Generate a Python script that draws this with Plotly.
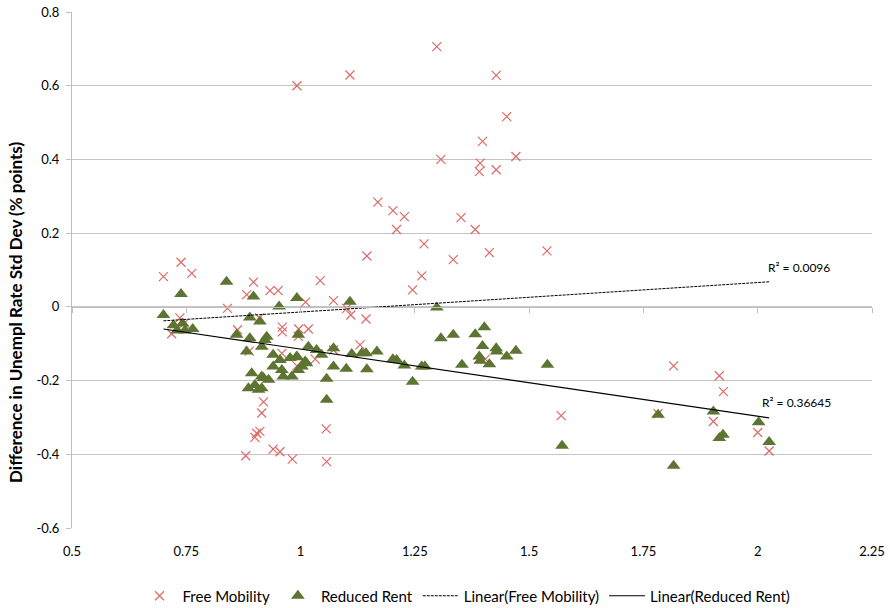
import plotly.graph_objects as go

# Free Mobility observations
fm_x = [0.70, 0.7385, 0.762, 0.897, 0.882, 0.933, 0.951, 1.043, 1.011, 0.84,
        0.736, 0.745, 0.718, 0.862, 0.96, 0.96, 0.996, 1.017, 0.995, 0.91,
        0.888, 0.959, 0.992, 1.032, 0.919, 0.915, 0.904, 0.911, 0.900, 0.88,
        0.94, 0.955, 0.982, 1.072, 1.101, 1.11, 1.143, 1.13, 1.072, 1.056,
        1.057, 1.21, 1.382, 1.27, 1.145, 1.334, 1.265, 1.245, 1.298, 1.108,
        1.428, 0.992, 1.451, 1.398, 1.471, 1.307, 1.393, 1.391, 1.428, 1.169,
        1.202, 1.227, 1.351, 1.413, 1.539, 1.404, 1.57, 1.816, 1.916, 1.925,
        1.782, 1.903, 2.0, 2.025]
fm_y = [0.082, 0.121, 0.091, 0.067, 0.033, 0.044, 0.044, 0.071, 0.013, -0.004,
        -0.03, -0.045, -0.073, -0.062, -0.055, -0.068, -0.06, -0.06, -0.08, -0.03,
        -0.12, -0.126, -0.16, -0.142, -0.258, -0.288, -0.343, -0.338, -0.354, -0.404,
        -0.386, -0.393, -0.413, 0.017, -0.004, -0.022, -0.033, -0.103, -0.117, -0.331,
        -0.42, 0.21, 0.21, 0.171, 0.138, 0.128, 0.084, 0.046, 0.706, 0.629,
        0.628, 0.6, 0.516, 0.449, 0.408, 0.4, 0.39, 0.367, 0.372, 0.284,
        0.261, 0.245, 0.242, 0.147, 0.152, -0.142, -0.295, -0.16, -0.187, -0.23,
        -0.29, -0.311, -0.341, -0.391]

# Reduced Rent observations
rr_x = [0.70, 0.7385, 0.722, 0.742, 0.73, 0.747, 0.764, 0.838, 0.897, 0.992,
        0.953, 0.889, 0.911, 0.86, 0.889, 0.926, 0.922, 0.995, 1.017, 1.035,
        0.882, 0.915, 0.94, 0.955, 0.977, 0.991, 1.01, 0.94, 0.959, 0.962,
        0.981, 1.003, 0.893, 0.915, 0.919, 0.93, 0.886, 0.9, 0.908, 0.915,
        1.046, 1.072, 1.112, 1.134, 1.143, 1.167, 0.992, 1.013, 0.995, 1.072,
        1.1, 1.145, 1.057, 1.057, 1.108, 1.298, 1.307, 1.334, 1.382, 1.402,
        1.398, 1.391, 1.393, 1.413, 1.428, 1.429, 1.451, 1.471, 1.353, 1.54,
        1.202, 1.21, 1.227, 1.265, 1.272, 1.245, 1.782, 1.903, 1.916, 1.924,
        2.002, 2.025, 1.816, 1.572]
rr_y = [-0.022, 0.035, -0.05, -0.045, -0.064, -0.064, -0.06, 0.068, 0.028, 0.024,
        0.001, -0.029, -0.04, -0.076, -0.085, -0.081, -0.09, -0.076, -0.108, -0.117,
        -0.121, -0.108, -0.13, -0.144, -0.139, -0.137, -0.148, -0.162, -0.171, -0.189,
        -0.189, -0.162, -0.18, -0.189, -0.193, -0.198, -0.221, -0.212, -0.225, -0.221,
        -0.13, -0.112, -0.128, -0.126, -0.126, -0.121, -0.135, -0.153, -0.171, -0.162,
        -0.168, -0.169, -0.195, -0.252, 0.014, -0.002, -0.085, -0.076, -0.074, -0.055,
        -0.106, -0.135, -0.146, -0.156, -0.112, -0.121, -0.135, -0.119, -0.157, -0.157,
        -0.142, -0.144, -0.159, -0.162, -0.162, -0.203, -0.293, -0.284, -0.356, -0.347,
        -0.313, -0.367, -0.431, -0.377]

# Linear trend lines: [slope, intercept] and the R² reported for each
fm_trend = [0.080, -0.094]
rr_trend = [-0.182, 0.0674]
r2_labels = ["R² = 0.0096", "R² = 0.36645"]

x_ticks = [0.5, 0.75, 1, 1.25, 1.5, 1.75, 2, 2.25]
x_tick_text = ["0.5", "0.75", "1", "1.25", "1.5", "1.75", "2", "2.25"]
y_ticks = [-0.6, -0.4, -0.2, 0, 0.2, 0.4, 0.6, 0.8]
y_tick_text = ["-0.6", "-0.4", "-0.2", "0", "0.2", "0.4", "0.6", "0.8"]

FONT = "Lato, 'Open Sans', sans-serif"
X_COLOR = "#dc6a66"
TRI_COLOR = "#5e7432"


def trend_line(xs, coef):
    x0, x1 = min(xs), max(xs)
    return [x0, x1], [coef[0] * x0 + coef[1], coef[0] * x1 + coef[1]]


fig = go.Figure()

fig.add_trace(go.Scatter(
    x=fm_x, y=fm_y, mode="markers", name="Free Mobility",
    marker=dict(symbol="x-thin-open", size=9, color=X_COLOR,
                line=dict(color=X_COLOR, width=1.2)),
))
fig.add_trace(go.Scatter(
    x=rr_x, y=rr_y, mode="markers", name="Reduced Rent",
    marker=dict(symbol="triangle-up", size=12, color=TRI_COLOR,
                line=dict(width=0)),
))

fx, fy = trend_line(fm_x, fm_trend)
fig.add_trace(go.Scatter(
    x=fx, y=fy, mode="lines", name="Linear(Free Mobility)",
    line=dict(color="black", width=1, dash="3px,1px"),
))
rx, ry = trend_line(rr_x, rr_trend)
fig.add_trace(go.Scatter(
    x=rx, y=ry, mode="lines", name="Linear(Reduced Rent)",
    line=dict(color="black", width=1.2),
))

# Axis crossing at y = 0 with its tick marks
fig.add_trace(go.Scatter(x=[None], y=[None], xaxis="x2", showlegend=False))

fig.add_annotation(x=2.0186, y=0.106, text=r2_labels[0], showarrow=False,
                   xanchor="left", yanchor="middle",
                   font=dict(size=12, color="black", family=FONT))
fig.add_annotation(x=2.004, y=-0.26, text=r2_labels[1], showarrow=False,
                   xanchor="left", yanchor="middle",
                   font=dict(size=12, color="black", family=FONT))

fig.add_annotation(
    xref="paper", yref="paper", x=-0.0713, y=0.4186,
    text="<b>Difference in Unempl Rate Std Dev (% points)</b>",
    textangle=-90, showarrow=False, xanchor="center", yanchor="middle",
    font=dict(size=17, color="black", family=FONT),
)

fig.update_layout(
    width=890, height=608,
    margin=dict(l=72, r=18, t=12, b=80, autoexpand=False),
    paper_bgcolor="white", plot_bgcolor="white",
    font=dict(family=FONT, size=13, color="black"),
    showlegend=True,
    legend=dict(orientation="h", x=0.4925, y=-0.1318, xanchor="center",
                yanchor="middle", font=dict(size=15, family=FONT),
                itemwidth=36, tracegroupgap=0),
    xaxis=dict(range=[0.5, 2.25], tickvals=x_ticks, ticktext=x_tick_text,
               showgrid=False, zeroline=False, showline=False, ticks="",
               ticklabelstandoff=14, tickfont=dict(size=13)),
    xaxis2=dict(overlaying="x", matches="x", anchor="free",
                position=(0 - (-0.6)) / 1.4, showline=True,
                linecolor="#bfbfbf", linewidth=1, ticks="outside",
                ticklen=5, tickcolor="#bfbfbf", tickvals=x_ticks,
                showticklabels=False, showgrid=False, zeroline=False),
    yaxis=dict(range=[-0.6, 0.8], tickvals=y_ticks, ticktext=y_tick_text,
               showgrid=True, gridcolor="#c4c4c4", gridwidth=1,
               zeroline=False, showline=True, linecolor="#bfbfbf",
               ticks="outside", ticklen=5, tickcolor="#bfbfbf",
               ticklabelstandoff=4, tickfont=dict(size=13)),
)

fig.write_html("out.html")
